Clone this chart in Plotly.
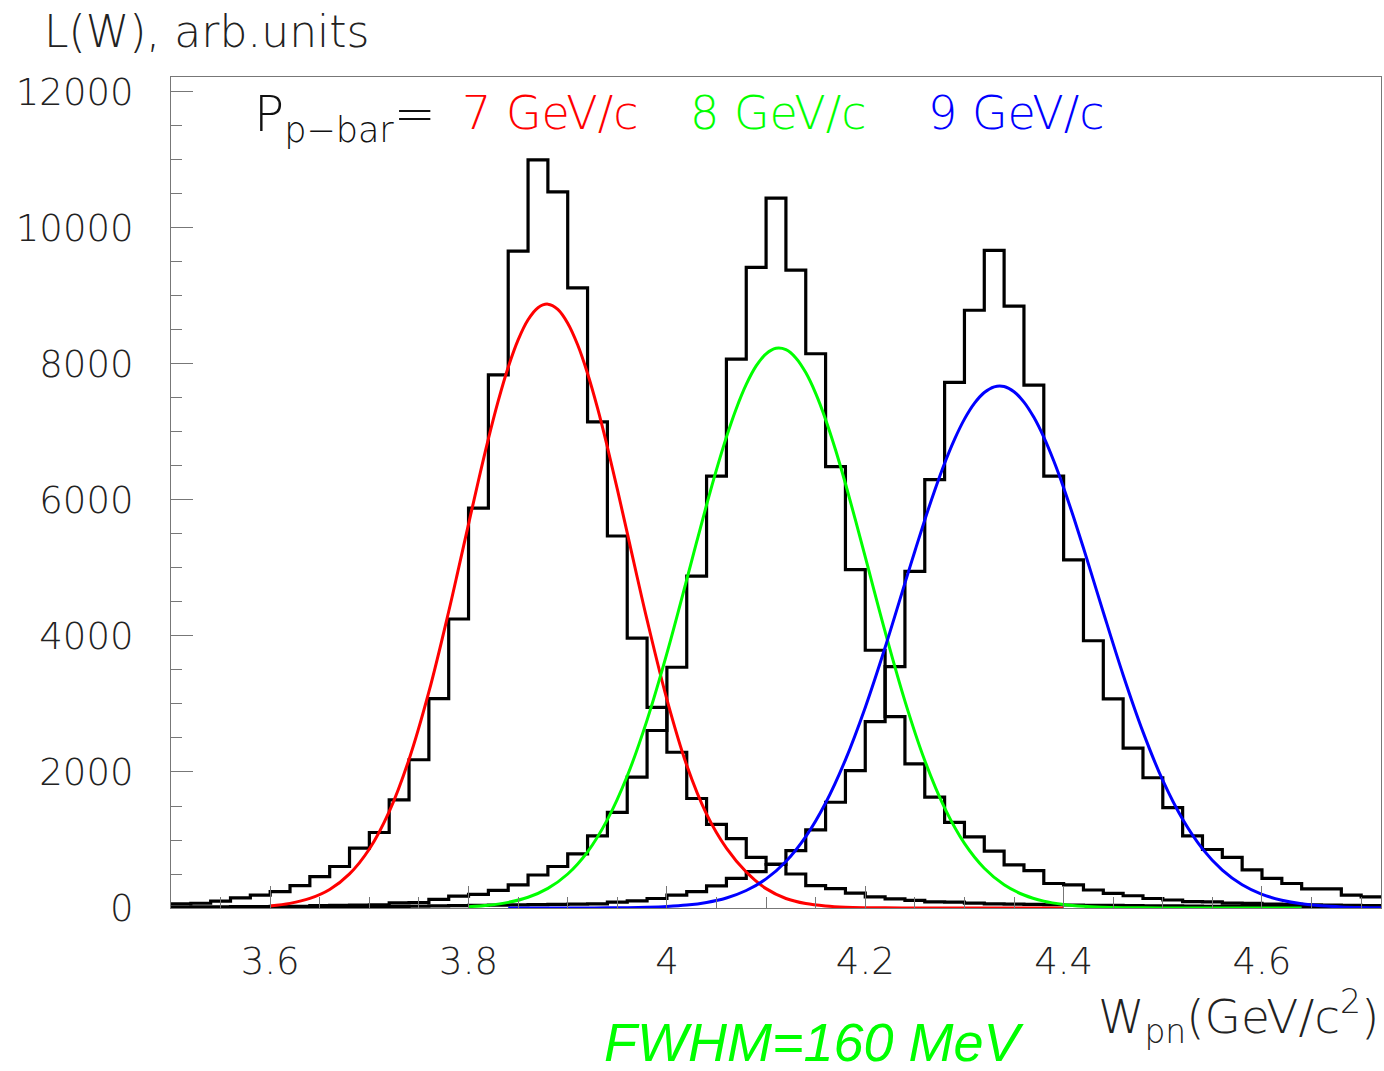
import plotly.graph_objects as go

# ---------------- data ----------------
bin_edges = [3.50, 3.52, 3.54, 3.56, 3.58, 3.60, 3.62, 3.64, 3.66, 3.68,
             3.70, 3.72, 3.74, 3.76, 3.78, 3.80, 3.82, 3.84, 3.86, 3.88,
             3.90, 3.92, 3.94, 3.96, 3.98, 4.00, 4.02, 4.04, 4.06, 4.08,
             4.10, 4.12, 4.14, 4.16, 4.18, 4.20, 4.22, 4.24, 4.26, 4.28,
             4.30, 4.32, 4.34, 4.36, 4.38, 4.40, 4.42, 4.44, 4.46, 4.48,
             4.50, 4.52, 4.54, 4.56, 4.58, 4.60, 4.62, 4.64, 4.66, 4.68,
             4.70, 4.72]

hist_7gev = [60, 70, 100, 150, 190, 240, 330, 460, 610, 880,
             1110, 1590, 2180, 3080, 4250, 5880, 7840, 9660, 11000, 10530,
             9120, 7150, 5470, 3970, 2950, 2290, 1610, 1230, 1020, 745,
             645, 500, 330, 285, 220, 165, 135, 112, 90, 85,
             72, 62, 58, 52, 48, 44, 40, 38, 35, 32,
             30, 28, 26, 24, 22, 20, 19, 18, 16, 15,
             14]

hist_8gev = [15, 17, 18, 20, 22, 24, 26, 35, 38, 42,
             46, 75, 80, 128, 176, 200, 260, 340, 485, 610,
             795, 1060, 1405, 1925, 2610, 3540, 4880, 6350, 8070, 9420,
             10440, 9380, 8150, 6490, 4975, 3790, 2815, 2120, 1630, 1260,
             1045, 835, 635, 550, 360, 340, 265, 215, 180, 140,
             118, 95, 90, 72, 68, 58, 52, 48, 44, 40,
             36]

hist_9gev = [5, 6, 7, 8, 9, 10, 12, 14, 16, 18,
             20, 23, 26, 30, 34, 38, 42, 46, 50, 54,
             57, 60, 85, 105, 140, 190, 240, 325, 435, 535,
             640, 845, 1150, 1555, 2020, 2740, 3550, 4950, 6300, 7730,
             8790, 9670, 8850, 7690, 6350, 5120, 3930, 3075, 2350, 1915,
             1475, 1060, 860, 745, 560, 435, 360, 280, 280, 190,
             165]

fit7_x = [3.60, 3.62, 3.64, 3.66, 3.68, 3.70, 3.72, 3.74, 3.76, 3.78,
          3.79, 3.80, 3.81, 3.82, 3.83, 3.84, 3.85, 3.86, 3.87, 3.88,
          3.89, 3.90, 3.91, 3.92, 3.93, 3.94, 3.95, 3.96, 3.97, 3.98,
          4.00, 4.02, 4.04, 4.06, 4.08, 4.10, 4.12, 4.14, 4.16, 4.18,
          4.20, 4.22, 4.24, 4.26, 4.28, 4.30, 4.32, 4.34, 4.36, 4.38, 4.40]
fit7_y = [31, 68, 141, 273, 502, 868, 1417, 2185, 3177, 4360,
          4998, 5646, 6286, 6898, 7460, 7952, 8354, 8650, 8828, 8880,
          8803, 8600, 8282, 7860, 7353, 6779, 6159, 5516, 4868, 4236,
          3068, 2098, 1380, 880, 530, 285, 140, 66, 30, 12,
          5, 2, 1, 0, 0, 0, 0, 0, 0, 0, 0]

fit8_x = [3.80, 3.82, 3.84, 3.86, 3.88, 3.90, 3.92, 3.94, 3.96, 3.98,
          4.00, 4.02, 4.03, 4.04, 4.05, 4.06, 4.07, 4.08, 4.09, 4.10,
          4.11, 4.12, 4.13, 4.14, 4.15, 4.16, 4.17, 4.18, 4.19, 4.20,
          4.22, 4.24, 4.26, 4.28, 4.30, 4.32, 4.34, 4.36, 4.38, 4.40,
          4.42, 4.44, 4.46, 4.48, 4.50, 4.52, 4.54, 4.56, 4.58, 4.60,
          4.62, 4.64]
fit8_y = [19, 41, 83, 158, 289, 500, 826, 1299, 1941, 2763,
          3743, 4828, 5383, 5927, 6446, 6924, 7346, 7699, 7971, 8149,
          8230, 8210, 8089, 7873, 7568, 7185, 6739, 6242, 5711, 5162,
          4063, 3043, 2169, 1472, 950, 585, 342, 191, 101, 51,
          24, 11, 5, 2, 1, 0, 0, 0, 0, 0,
          0, 0]

fit9_x = [3.84, 3.86, 3.88, 3.90, 3.92, 3.94, 3.96, 3.98, 4.00, 4.02,
          4.04, 4.06, 4.08, 4.10, 4.12, 4.14, 4.16, 4.18, 4.20, 4.22,
          4.24, 4.25, 4.26, 4.27, 4.28, 4.29, 4.30, 4.31, 4.32, 4.33,
          4.34, 4.35, 4.36, 4.37, 4.38, 4.39, 4.40, 4.41, 4.42, 4.43,
          4.44, 4.46, 4.48, 4.50, 4.52, 4.54, 4.56, 4.58, 4.60, 4.62,
          4.64, 4.66, 4.68, 4.70, 4.72]
fit9_y = [0, 0, 0, 0, 1, 2, 5, 11, 22, 43,
          82, 148, 257, 428, 684, 1049, 1544, 2179, 2950, 3831,
          4777, 5247, 5706, 6139, 6540, 6892, 7189, 7421, 7581, 7664,
          7668, 7592, 7440, 7215, 6924, 6576, 6181, 5749, 5294, 4822,
          4349, 3427, 2590, 1875, 1304, 870, 557, 342, 201, 114,
          61, 32, 16, 8, 4]

x_tick_vals = [3.6, 3.8, 4.0, 4.2, 4.4, 4.6]
x_tick_text = ["3.6", "3.8", "4", "4.2", "4.4", "4.6"]
y_tick_vals = [0, 2000, 4000, 6000, 8000, 10000, 12000]
y_tick_text = ["0", "2000", "4000", "6000", "8000", "10000", "12000"]

# ---------------- figure ----------------
TICKFONT = dict(family="DejaVu Sans", size=37, color="#222222", weight=200)

fig = go.Figure()

for counts in (hist_7gev, hist_8gev, hist_9gev):
    fig.add_trace(go.Scatter(
        x=bin_edges, y=counts + [counts[-1]], mode="lines",
        line=dict(color="black", width=3.2, shape="hv"),
        hoverinfo="skip", showlegend=False))

for fx, fy, col in ((fit7_x, fit7_y, "#ff0000"),
                    (fit8_x, fit8_y, "#00ff00"),
                    (fit9_x, fit9_y, "#0000ff")):
    fig.add_trace(go.Scatter(
        x=fx, y=fy, mode="lines",
        line=dict(color=col, width=3, shape="spline", smoothing=1.0),
        hoverinfo="skip", showlegend=False))

fig.update_xaxes(
    range=[3.5, 4.72], showgrid=False, zeroline=False,
    showline=True, mirror=True, linecolor="#777777", linewidth=1.2,
    ticks="inside", ticklen=22, tickcolor="#777777", tickwidth=1,
    tickvals=x_tick_vals, ticktext=x_tick_text, tickfont=TICKFONT,
    ticklabelstandoff=20,
    minor=dict(dtick=0.05, tick0=3.5, ticks="inside", ticklen=11,
               tickcolor="#777777", tickwidth=1, showgrid=False))
fig.update_yaxes(
    range=[0, 12220], showgrid=False, zeroline=False,
    showline=True, mirror=True, linecolor="#777777", linewidth=1.2,
    ticks="inside", ticklen=22, tickcolor="#777777", tickwidth=1,
    tickvals=y_tick_vals, ticktext=y_tick_text, tickfont=TICKFONT,
    ticklabelstandoff=29,
    minor=dict(dtick=500, tick0=0, ticks="inside", ticklen=11,
               tickcolor="#777777", tickwidth=1, showgrid=False))

L, R, T, B = 171, 1381, 77, 908
W, H = 1384, 1071


def px(xp):
    return (xp - L) / (R - L)


def py(yp):
    return (B - yp) / (B - T)


anns = [
    dict(text="L(W), arb.units", x=px(42), y=py(32), xanchor="left",
         yanchor="middle", font=dict(family="DejaVu Sans", size=44,
                                      color="#222222", weight=200)),
    dict(text="P<sub>p\u2212bar</sub>=", x=px(252), y=py(118), xanchor="left",
         yanchor="middle", font=dict(family="DejaVu Sans", size=50,
                                      color="#111111", weight=200)),
    dict(text="7 GeV/c", x=px(460), y=py(113), xanchor="left",
         yanchor="middle", font=dict(family="DejaVu Sans", size=46,
                                      color="#ff0000", weight=200)),
    dict(text="8 GeV/c", x=px(688), y=py(113), xanchor="left",
         yanchor="middle", font=dict(family="DejaVu Sans", size=46,
                                      color="#00ff00", weight=200)),
    dict(text="9 GeV/c", x=px(926), y=py(113), xanchor="left",
         yanchor="middle", font=dict(family="DejaVu Sans", size=46,
                                      color="#0000ff", weight=200)),
    dict(text="W<sub>pn</sub>(GeV/c<sup>2</sup>)", x=px(1381), y=py(1016),
         xanchor="right", yanchor="middle",
         font=dict(family="DejaVu Sans", size=47, color="#222222", weight=200)),
    dict(text="<i>FWHM=160 MeV</i>", x=px(602), y=py(1074), xanchor="left",
         yanchor="bottom",
         font=dict(family="Liberation Sans", size=54, color="#00ff00")),
]
for a in anns:
    a.update(xref="paper", yref="paper", showarrow=False)
fig.update_layout(annotations=anns)

fig.update_layout(
    width=W, height=H,
    margin=dict(l=L, r=W - R, t=T, b=H - B, pad=0),
    paper_bgcolor="white", plot_bgcolor="white",
    showlegend=False)

fig.write_html("out.html")
